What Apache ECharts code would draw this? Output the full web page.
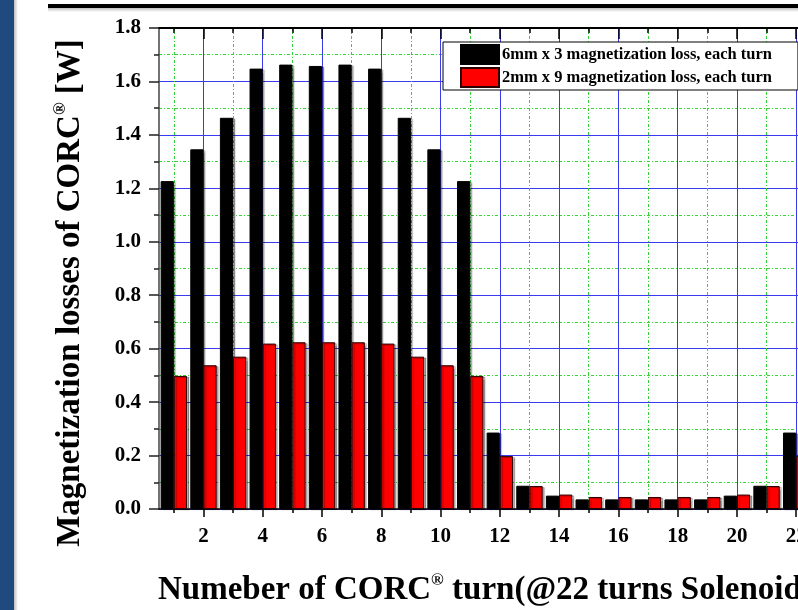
<!DOCTYPE html>
<html>
<head>
<meta charset="utf-8">
<script src="https://cdn.jsdelivr.net/npm/echarts@6/dist/echarts.min.js"></script>
<style>
html,body{margin:0;padding:0;background:#fff;overflow:hidden;width:798px;height:610px;}
#chart{width:814px;height:610px;}
</style>
</head>
<body>
<div id="chart"></div>
<script>
const categories = ['1','2','3','4','5','6','7','8','9','10','11','12','13','14','15','16','17','18','19','20','21','22'];
const loss6mm = [1.227,1.346,1.464,1.648,1.663,1.658,1.663,1.648,1.464,1.346,1.227,0.286,0.087,0.050,0.036,0.036,0.036,0.036,0.036,0.050,0.087,0.286];
const loss2mm = [0.498,0.538,0.570,0.619,0.624,0.624,0.624,0.619,0.570,0.538,0.498,0.198,0.086,0.054,0.045,0.045,0.045,0.045,0.045,0.054,0.086,0.198];
const seriesNames = ['6mm x 3 magnetization loss, each turn','2mm x 9 magnetization loss, each turn'];
const yTitle = 'Magnetization losses of CORC';
const xTitleA = 'Numeber of CORC';
const xTitleB = ' turn(@22 turns Solenoid)';

const FONT = '"Liberation Serif", "Times New Roman", serif';
const BLUE = '#3a3af0';
const GREEN = '#33d433';
const isEven = (i) => i % 2 === 1;   // categories 2,4,6...
const isOdd = (i) => i % 2 === 0;    // categories 1,3,5...

const chart = echarts.init(document.getElementById('chart'), null, {renderer: 'canvas'});
const option = {
  backgroundColor: '#ffffff',
  animation: false,
  grid: {left: 159, top: 28, width: 652, height: 481},
  legend: {
    orient: 'vertical', left: 443, top: 42,
    itemWidth: 38, itemHeight: 19, itemGap: 2,
    padding: [2, 26, 2, 17],
    borderColor: '#000', borderWidth: 1, backgroundColor: '#fff',
    icon: 'rect',
    textStyle: {fontFamily: FONT, fontWeight: 'bold', fontSize: 16.5, lineHeight: 19, color: '#000', padding: [0, 0, 0, -2]},
    data: seriesNames
  },
  xAxis: [
    {
      type: 'category', data: categories, position: 'bottom',
      axisLine: {show: true, lineStyle: {color: '#000', width: 1.5}},
      axisTick: {show: true, alignWithLabel: true, interval: isEven, length: 8, lineStyle: {color: '#000', width: 1.5}},
      axisLabel: {interval: isEven, fontFamily: FONT, fontWeight: 'bold', fontSize: 21, color: '#000', margin: 17},
      splitLine: {show: true, alignWithLabel: true, interval: isEven, lineStyle: {color: BLUE, width: 1}}
    },
    {
      type: 'category', data: categories, position: 'bottom',
      axisLine: {show: false},
      axisTick: {show: true, alignWithLabel: true, interval: isOdd, length: 4, lineStyle: {color: '#000', width: 1.5}},
      axisLabel: {show: false},
      splitLine: {show: true, alignWithLabel: true, interval: isOdd, lineStyle: {color: GREEN, width: 1, type: [3, 2, 1, 2]}}
    },
    {
      type: 'category', data: categories, position: 'top',
      axisLine: {show: true, lineStyle: {color: '#000', width: 2}},
      axisTick: {show: true, inside: true, alignWithLabel: true, interval: isEven, length: 11, lineStyle: {color: '#000', width: 1.5}},
      axisLabel: {show: false},
      splitLine: {show: false}
    },
    {
      type: 'category', data: categories, position: 'top',
      axisLine: {show: false},
      axisTick: {show: true, inside: true, alignWithLabel: true, interval: isOdd, length: 5, lineStyle: {color: '#000', width: 1.5}},
      axisLabel: {show: false},
      splitLine: {show: false}
    }
  ],
  yAxis: [
    {
      type: 'value', min: 0, max: 1.8, interval: 0.2, position: 'left',
      axisLine: {show: true, lineStyle: {color: '#444', width: 1.5}},
      axisTick: {show: true, length: 10, lineStyle: {color: '#222', width: 1.5}},
      minorTick: {show: true, splitNumber: 2, length: 5, lineStyle: {color: '#222', width: 1.5}},
      axisLabel: {formatter: (v) => v.toFixed(1), fontFamily: FONT, fontWeight: 'bold', fontSize: 21, color: '#000', margin: 18},
      splitLine: {show: true, lineStyle: {color: BLUE, width: 1}},
      minorSplitLine: {show: true, lineStyle: {color: GREEN, width: 1, type: [3, 2, 1, 2]}}
    }
  ],
  series: [
    {
      name: seriesNames[0], type: 'bar', xAxisIndex: 0, yAxisIndex: 0,
      data: loss6mm, barGap: '0%', barCategoryGap: '11%',
      itemStyle: {color: '#000', borderColor: '#000', borderWidth: 1,
        shadowColor: 'rgba(0,0,0,0.3)', shadowOffsetX: 2, shadowOffsetY: 1, shadowBlur: 1}
    },
    {
      name: seriesNames[1], type: 'bar', xAxisIndex: 0, yAxisIndex: 0,
      data: loss2mm, barGap: '0%', barCategoryGap: '11%',
      itemStyle: {color: '#ff0000', borderColor: '#2a0000', borderWidth: 1,
        shadowColor: 'rgba(0,0,0,0.3)', shadowOffsetX: 2, shadowOffsetY: 1, shadowBlur: 1}
    }
  ],
  graphic: [
    {type: 'rect', shape: {x: 14, y: 0, width: 4, height: 610}, style: {fill: new echarts.graphic.LinearGradient(0,0,1,0,[{offset:0,color:'rgba(0,0,0,0.25)'},{offset:1,color:'rgba(0,0,0,0)'}])}, silent: true},
    {type: 'rect', shape: {x: 0, y: 0, width: 14, height: 610}, style: {fill: '#1f4a7d'}, silent: true},
    {type: 'rect', shape: {x: 48, y: 8, width: 766, height: 4}, style: {fill: new echarts.graphic.LinearGradient(0,0,0,1,[{offset:0,color:'rgba(0,0,0,0.25)'},{offset:1,color:'rgba(0,0,0,0)'}])}, silent: true},
    {type: 'rect', shape: {x: 48, y: 4, width: 766, height: 4}, style: {fill: '#000'}, silent: true},
    {
      type: 'text', x: 70, y: 293, rotation: Math.PI / 2, silent: true,
      style: {
        text: '{a|' + yTitle + '}{s|®}{a| [W]}',
        align: 'center', verticalAlign: 'middle',
        textAlign: 'center', textVerticalAlign: 'middle',
        rich: {
          a: {fontFamily: FONT, fontWeight: 'bold', fontSize: 33, fill: '#000', color: '#000', lineHeight: 36},
          s: {fontFamily: FONT, fontWeight: 'bold', fontSize: 17, fill: '#000', color: '#000', verticalAlign: 'top', lineHeight: 36}
        }
      }
    },
    {
      type: 'text', x: 158, y: 590, silent: true,
      style: {
        text: '{a|' + xTitleA + '}{s|®}{a|' + xTitleB + '}',
        align: 'left', verticalAlign: 'middle',
        textAlign: 'left', textVerticalAlign: 'middle',
        rich: {
          a: {fontFamily: FONT, fontWeight: 'bold', fontSize: 33, fill: '#000', color: '#000', lineHeight: 36},
          s: {fontFamily: FONT, fontWeight: 'bold', fontSize: 17, fill: '#000', color: '#000', verticalAlign: 'top', lineHeight: 36}
        }
      }
    }
  ]
};
chart.setOption(option);
</script>
</body>
</html>
